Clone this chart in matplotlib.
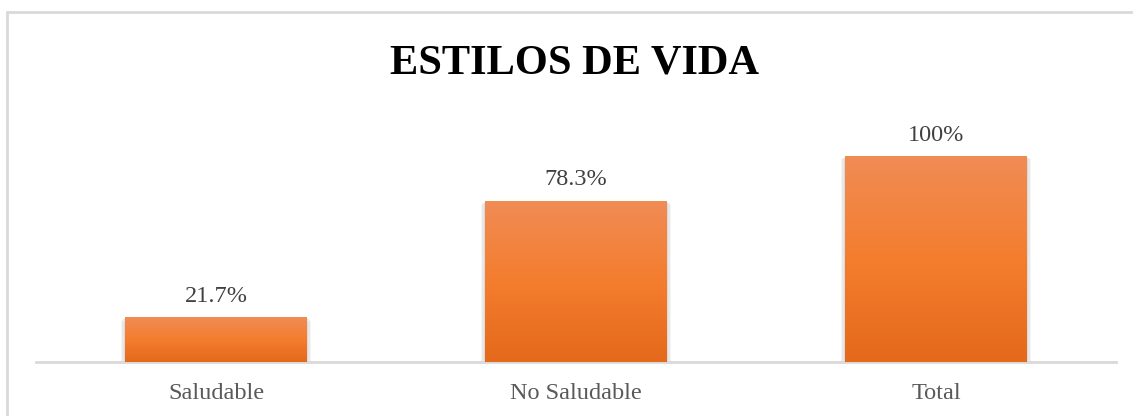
import numpy as np
import matplotlib
matplotlib.use("Agg")
import matplotlib.pyplot as plt
from matplotlib.colors import LinearSegmentedColormap
from matplotlib.patches import Rectangle

categories = ["Saludable", "No Saludable", "Total"]
values = [21.7, 78.3, 100.0]
value_labels = ["21.7%", "78.3%", "100%"]

plt.rcParams["font.family"] = ["Liberation Serif", "DejaVu Serif"]

W, H, DPI = 1133, 416, 100
fig = plt.figure(figsize=(W / DPI, H / DPI), dpi=DPI)
fig.patch.set_facecolor("white")

# light outer frame of the chart area
fig.add_artist(Rectangle((6.5 / W, -0.1), 1.2, (H - 12) / H + 0.1,
                         transform=fig.transFigure, fill=False,
                         edgecolor="#d9d9d9", linewidth=2.0))

ax_left, ax_right = 36 / W, 1116 / W
ax_bottom = (H - 362) / H
ymax = 110
ax_height = 206 * (ymax / 100) / H
ax = fig.add_axes([ax_left, ax_bottom, ax_right - ax_left, ax_height])
ax.set_xlim(-0.5, 2.5)
ax.set_ylim(0, ymax)
for s in ["top", "right", "left"]:
    ax.spines[s].set_visible(False)
ax.spines["bottom"].set_color("#d9d9d9")
ax.spines["bottom"].set_linewidth(2.0)
ax.set_yticks([])
ax.set_xticks(range(len(categories)))
ax.set_xticklabels(categories, fontsize=17.5, color="#595959")
ax.tick_params(axis="x", length=0, pad=15)

grad = LinearSegmentedColormap.from_list(
    "bar_grad", ["#e4691b", "#f47d2e", "#f08c55"])
gradient = np.linspace(0, 1, 256).reshape(-1, 1)

width = 0.505
bars = ax.bar(range(len(categories)), values, width=width,
              color="none", edgecolor="none", zorder=3)
for bar, lab in zip(bars, value_labels):
    x0, w, h = bar.get_x(), bar.get_width(), bar.get_height()
    # soft shadow around the bar
    for k, a in enumerate([0.06, 0.05, 0.04]):
        dx = 0.004 * (k + 1)
        ax.add_patch(Rectangle((x0 - dx, -0.6 * (k + 1)), w + 2 * dx, h + 0.2,
                               facecolor="#000000", alpha=a, edgecolor="none",
                               zorder=2))
    im = ax.imshow(gradient, cmap=grad, aspect="auto", origin="lower",
                   extent=(x0, x0 + w, 0, h), zorder=3)
    im.set_clip_path(bar)
    ax.text(bar.get_x() + w / 2, h + 7.5, lab, ha="center", va="baseline",
            fontsize=17.5, color="#404040")

fig.text(575 / W, (H - 73) / H, "ESTILOS DE VIDA", ha="center",
         va="baseline", fontsize=30.5, fontweight="bold", color="#000000")

fig.savefig("out.png", dpi=DPI, facecolor="white")
